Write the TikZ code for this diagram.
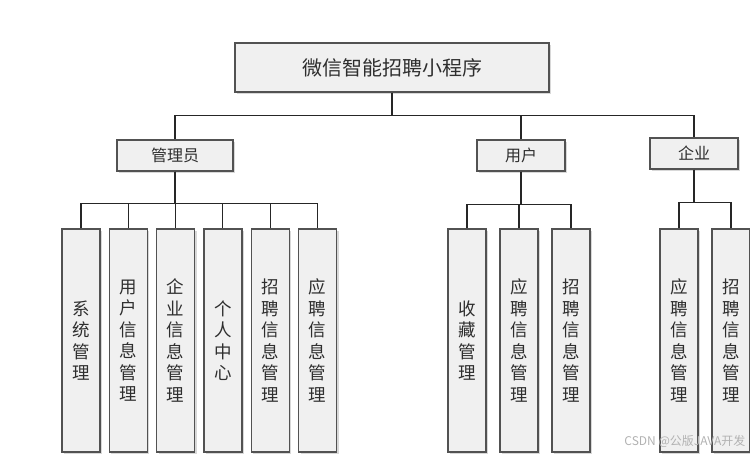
\documentclass[tikz,border=0pt]{standalone}
\usepackage{fontspec}
\setmainfont{Noto Sans CJK SC}
\usetikzlibrary{positioning,shadows}

\begin{document}
\begin{tikzpicture}[x=1pt, y=-1pt,
  box/.style={rectangle, draw=black!68, line width=1.3pt, fill=black!6, inner sep=0pt,
              text=black!82,
              drop shadow={shadow xshift=2pt, shadow yshift=-2pt, fill=black!30}},
  top/.style={box, minimum width=314pt, minimum height=49pt, font=\fontsize{20}{20}\selectfont},
  grp/.style={box, minimum width=88pt, minimum height=31pt, font=\fontsize{16}{16}\selectfont},
  mod/.style={box, minimum width=38pt, minimum height=223pt, align=center,
              font=\fontsize{17.5}{21.5}\selectfont},
  link/.style={draw=black!85, line width=1.1pt}
]
\useasboundingbox (0,0) rectangle (750,459);

% root
\node[top] (app) at (392,67.5) {微信智能招聘小程序};

% roles
\node[grp, minimum width=116pt] (admin) at (175,155.5) {管理员};
\node[grp] (user) at (521,155.5) {用户};
\node[grp] (comp) at (694,153.5) {企业};

% admin modules
\node[mod] (a1) at (81,340.5) {系\\统\\管\\理};
\node[mod, right=8pt of a1] (a2) {用\\户\\信\\息\\管\\理};
\node[mod, right=8pt of a2] (a3) {企\\业\\信\\息\\管\\理};
\node[mod, right=8pt of a3] (a4) {个\\人\\中\\心};
\node[mod, right=8pt of a4] (a5) {招\\聘\\信\\息\\管\\理};
\node[mod, right=8pt of a5] (a6) {应\\聘\\信\\息\\管\\理};

% user modules
\node[mod] (u1) at (467,340.5) {收\\藏\\管\\理};
\node[mod, right=12.7pt of u1] (u2) {应\\聘\\信\\息\\管\\理};
\node[mod, right=12.7pt of u2] (u3) {招\\聘\\信\\息\\管\\理};

% company modules
\node[mod] (c1) at (679,340.5) {应\\聘\\信\\息\\管\\理};
\node[mod, right=12.7pt of c1] (c2) {招\\聘\\信\\息\\管\\理};

% connectors
\foreach \g in {admin,user,comp}
  \draw[link] (app.south) -- ++(0,23) -| (\g.north);
\foreach \m in {a1,a2,a3,a4,a5,a6}
  \draw[link] (admin.south) -- ++(0,32) -| (\m.north);
\foreach \m in {u1,u2,u3}
  \draw[link] (user.south) -- ++(0,33) -| (\m.north);
\foreach \m in {c1,c2}
  \draw[link] (comp.south) -- ++(0,33) -| (\m.north);

\node[text=black!30, font=\fontsize{12}{12}\selectfont, anchor=east] (mark) at (749,441) {CSDN @公版JAVA开发};
\end{tikzpicture}
\end{document}
